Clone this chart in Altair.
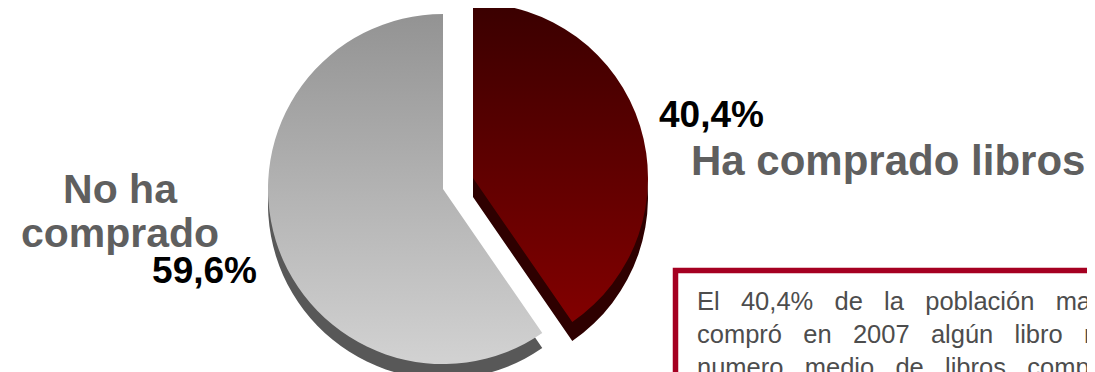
import math
import altair as alt
import pandas as pd

# ---- data -------------------------------------------------------------
categories = ["Ha comprado libros", "No ha comprado"]
values = [40.4, 59.6]
pct_labels = [f"{v:.1f}".replace(".", ",") + "%" for v in values]
left_label_lines = ["No ha", "comprado"]
right_label = "Ha comprado libros"
box_lines = [
    "El 40,4% de la población mayor de 14 años",
    "compró en 2007 algún libro no de texto. El",
    "numero medio de libros comprados fue de",
]

df = pd.DataFrame({"cat": categories, "v": values, "order": list(range(len(values)))})

W, H = 1079, 364
R = 175
DEPTH = 17

base = alt.Chart(df).transform_stack(
    stack="v", groupby=[], as_=["start", "end"],
    sort=[alt.SortField("order", order="ascending")],
)

theta = alt.Theta("start:Q", scale=alt.Scale(domain=[0, 100], range=[0, 2 * math.pi]))
theta2 = alt.Theta2("end:Q")


def grad(c0, c1):
    return alt.LinearGradient(
        gradient="linear",
        stops=[alt.GradientStop(color=c0, offset=0), alt.GradientStop(color=c1, offset=1)],
        x1=0, x2=0, y1=0, y2=1,
    )


def slice_layer(cat, cx, cy, fill):
    return base.transform_filter(alt.datum.cat == cat).mark_arc(
        radius=R, fill=fill
    ).encode(theta=theta, theta2=theta2, x=alt.value(cx), y=alt.value(cy))


# centres of the two (exploded) slices
red_c = (465, 170)
grey_c = (435, 181)

grey_side = slice_layer(categories[1], grey_c[0], grey_c[1] + DEPTH - 2, "#585858")
red_side = slice_layer(categories[0], red_c[0], red_c[1] + DEPTH + 2, "#2e0000")
grey_top = slice_layer(categories[1], grey_c[0], grey_c[1], grad("#939393", "#d2d2d2"))
red_top = slice_layer(categories[0], red_c[0], red_c[1], grad("#3a0000", "#820000"))

# ---- labels -------------------------------------------------------------
FONT = "Liberation Sans"

lbl_df = pd.DataFrame({"t": [right_label]})
right_lbl = alt.Chart(lbl_df).mark_text(
    font=FONT, fontSize=42, fontWeight="bold", color="#5f5f5f", align="left", baseline="alphabetic"
).encode(text="t:N", x=alt.value(683), y=alt.value(167))

left_df = pd.DataFrame({"t": ["\n".join(left_label_lines)]})
left_lbl = alt.Chart(left_df).mark_text(
    font=FONT, fontSize=41, fontWeight="bold", color="#5f5f5f", align="center",
    baseline="alphabetic", lineBreak="\n", lineHeight=44,
).encode(text="t:N", x=alt.value(112), y=alt.value(195))

p1 = alt.Chart(pd.DataFrame({"t": [pct_labels[0]]})).mark_text(
    font=FONT, fontSize=37, fontWeight="bold", color="#000000", align="left", baseline="alphabetic"
).encode(text="t:N", x=alt.value(651), y=alt.value(119))

p2 = alt.Chart(pd.DataFrame({"t": [pct_labels[1]]})).mark_text(
    font=FONT, fontSize=37, fontWeight="bold", color="#000000", align="right", baseline="alphabetic"
).encode(text="t:N", x=alt.value(249), y=alt.value(275))

# ---- text box ------------------------------------------------------------
box = alt.Chart(pd.DataFrame({"k": [0]})).mark_rect(
    fill="#ffffff", fillOpacity=0, stroke="#a50021", strokeWidth=5.5
).encode(x=alt.value(667.5), x2=alt.value(1300), y=alt.value(262.5), y2=alt.value(500))

NBSP = "\u00a0" * 3
box_text = "\n".join(NBSP.join(line.split(" ")) for line in box_lines)
box_txt = alt.Chart(pd.DataFrame({"t": [box_text]})).mark_text(
    font=FONT, fontSize=25.5, color="#4d4d4d", align="left", baseline="alphabetic",
    lineBreak="\n", lineHeight=33,
).encode(text="t:N", x=alt.value(689), y=alt.value(302))

chart = alt.layer(
    grey_side, red_side, grey_top, red_top, right_lbl, left_lbl, p1, p2, box, box_txt
).properties(
    width=W, height=H, padding=0, autosize=alt.AutoSizeParams(type="none"),
    background="#ffffff",
).configure_view(stroke=None)

chart.save("out.html", embed_options={"renderer": "svg", "actions": False})
